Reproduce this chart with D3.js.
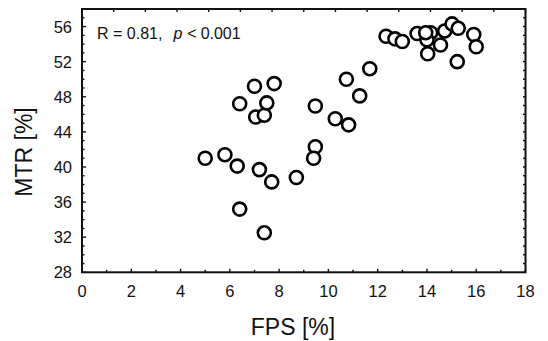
<!DOCTYPE html>
<html lang="en">
<head>
  <meta charset="UTF-8">
  <title>MTR vs FPS</title>
  <style>
    html, body { margin: 0; background: #fff; }
    svg { display: block; }
    text { font-family: Arial, "Liberation Sans", sans-serif; fill: #111; }
  </style>
</head>
<body>
  <script src="https://d3js.org/d3.v7.min.js"></script>
  <script>
    const W = 548, H = 341;
    const margin = { top: 9, right: 22.5, bottom: 68.7, left: 82 };

    // data
    const fps = [5.0, 5.8, 6.3, 7.2, 7.7, 8.7, 6.4, 7.4, 7.05, 7.4,
                 7.0, 7.8, 6.4, 7.5,
                 12.34, 12.7, 13.0, 13.6, 14.15, 14.0, 14.03, 14.55, 14.72, 15.02,
                 15.27, 15.23, 15.9, 16.0, 13.95,
                 11.68, 10.73, 11.27, 9.47, 9.47, 9.4, 10.28, 10.82];
    const mtr = [41.0, 41.4, 40.1, 39.7, 38.3, 38.8, 35.2, 32.5, 45.7, 45.9,
                 49.2, 49.5, 47.2, 47.3,
                 54.9, 54.6, 54.3, 55.2, 55.3, 54.5, 52.9, 53.9, 55.5, 56.3,
                 55.8, 52.0, 55.1, 53.7, 55.3,
                 51.2, 50.0, 48.1, 46.95, 42.3, 41.0, 45.5, 44.8];
    const xTicks = [0, 2, 4, 6, 8, 10, 12, 14, 16, 18];
    const yTicks = [28, 32, 36, 40, 44, 48, 52, 56];

    const svg = d3.select("body").append("svg")
      .attr("width", W).attr("height", H);

    const x = d3.scaleLinear().domain([0, 18]).range([margin.left, W - margin.right]);
    const y = d3.scaleLinear().domain([28, 58]).range([H - margin.bottom, margin.top]);
    // the top edge has its own evenly spaced ticks
    const xTop = d3.scaleLinear().domain([0, 14]).range(x.range());

    const x0 = x.range()[0], x1 = x.range()[1];
    const y0 = y.range()[0], y1 = y.range()[1];

    const g = svg.append("g").attr("stroke", "#111").attr("stroke-width", 1.4);

    // minor + major ticks, inside the frame
    d3.range(0, 19).forEach(v => {
      const len = v % 2 === 0 ? 3.5 : 2.5;
      g.append("line").attr("x1", x(v)).attr("x2", x(v)).attr("y1", y0).attr("y2", y0 - len);
    });
    d3.range(0, 15).forEach(v => {
      g.append("line").attr("x1", xTop(v)).attr("x2", xTop(v)).attr("y1", y1).attr("y2", y1 + 3);
    });
    d3.range(28, 59).forEach(v => {
      const len = (v - 28) % 4 === 0 ? 4 : 2.5;
      g.append("line").attr("y1", y(v)).attr("y2", y(v)).attr("x1", x0).attr("x2", x0 + len);
      g.append("line").attr("y1", y(v)).attr("y2", y(v)).attr("x1", x1).attr("x2", x1 - 2.5);
    });

    // frame
    svg.append("rect")
      .attr("x", x0).attr("y", y1)
      .attr("width", x1 - x0).attr("height", y0 - y1)
      .attr("fill", "none").attr("stroke", "#111").attr("stroke-width", 2);

    // tick labels
    svg.selectAll(".xl").data(xTicks).join("text")
      .attr("x", d => x(d)).attr("y", 297)
      .attr("text-anchor", "middle").attr("font-size", 16.5)
      .text(d => d);
    svg.selectAll(".yl").data(yTicks).join("text")
      .attr("x", 72).attr("y", d => y(d) + 6)
      .attr("text-anchor", "end").attr("font-size", 16.5)
      .text(d => d);

    // axis titles
    svg.append("text")
      .attr("x", 293).attr("y", 335)
      .attr("text-anchor", "middle").attr("font-size", 23)
      .text("FPS [%]");
    svg.append("text")
      .attr("transform", "translate(32,152) rotate(-90)")
      .attr("text-anchor", "middle").attr("font-size", 23)
      .text("MTR [%]");

    // annotation
    const ann = svg.append("text")
      .attr("x", 97).attr("y", 39).attr("font-size", 16);
    ann.append("tspan").text("R = 0.81,");
    ann.append("tspan").attr("dx", 11).attr("font-style", "italic").text("p");
    ann.append("tspan").attr("dx", 5).text("<");
    ann.append("tspan").attr("dx", 4).text("0.001");

    // points
    svg.append("g").selectAll("circle")
      .data(fps.map((v, i) => [v, mtr[i]]))
      .join("circle")
      .attr("cx", d => x(d[0]))
      .attr("cy", d => y(d[1]))
      .attr("r", 6.5)
      .attr("fill", "#fff")
      .attr("stroke", "#000")
      .attr("stroke-width", 2.6);
  </script>
</body>
</html>
